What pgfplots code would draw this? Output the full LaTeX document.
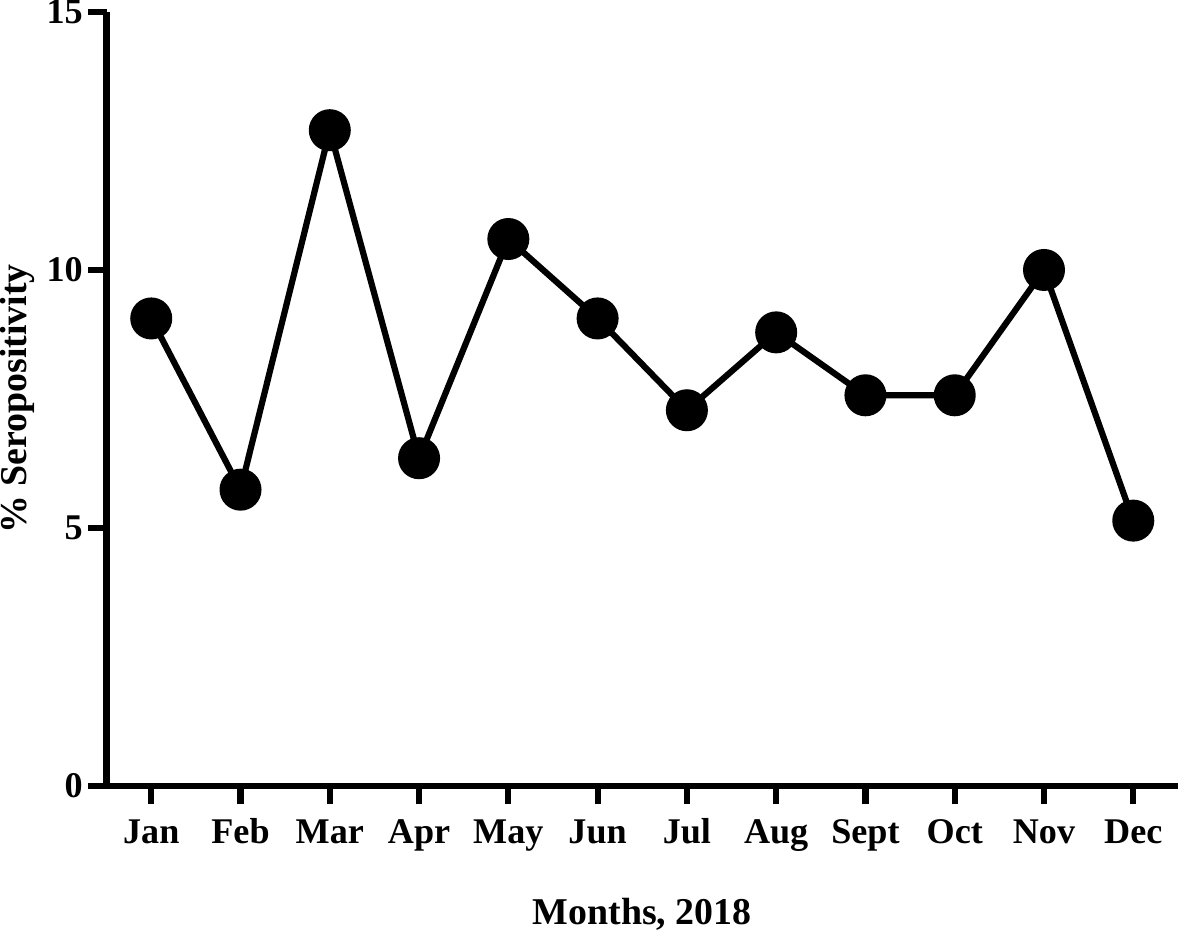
\documentclass[border=0pt]{standalone}
\usepackage{fontspec}
\setmainfont{Liberation Serif}
\usepackage{pgfplots}
\pgfplotsset{compat=1.18}

\begin{document}
\begin{tikzpicture}
\begin{axis}[
    scale only axis,
    width=10.94cm, height=7.9cm,
    axis lines=left,
    axis line style={-, line width=1.8pt},
    xmin=-0.5, xmax=11.5,
    ymin=0, ymax=15,
    xtick={0,...,11},
    xticklabels={Jan,Feb,Mar,Apr,May,Jun,Jul,Aug,Sept,Oct,Nov,Dec},
    ytick={0,5,10,15},
    tick align=outside,
    major tick length=5.4pt,
    tick style={line width=1.8pt, black},
    /pgf/number format/assume math mode=true,
    ticklabel style={font=\bfseries\fontsize{10.5}{12}\selectfont},
    xticklabel style={text height=1.5ex, text depth=0.3ex, yshift=-1pt},
    yticklabel style={inner ysep=0pt, xshift=2pt},
    xlabel={Months, 2018},
    ylabel={\% Seropositivity},
    label style={font=\bfseries\fontsize{11}{13}\selectfont},
    xlabel style={yshift=-10pt, inner ysep=1pt},
    ylabel style={inner sep=0pt, yshift=0pt},
    clip=false,
]
\addplot[black, line width=1.8pt, mark=*, mark size=5.2pt,
    mark options={fill=black}] coordinates {
    (0,9.06) (1,5.74) (2,12.71) (3,6.35) (4,10.60) (5,9.06)
    (6,7.28) (7,8.79) (8,7.57) (9,7.57) (10,10.0) (11,5.14)
};
\end{axis}
\end{tikzpicture}
\end{document}
